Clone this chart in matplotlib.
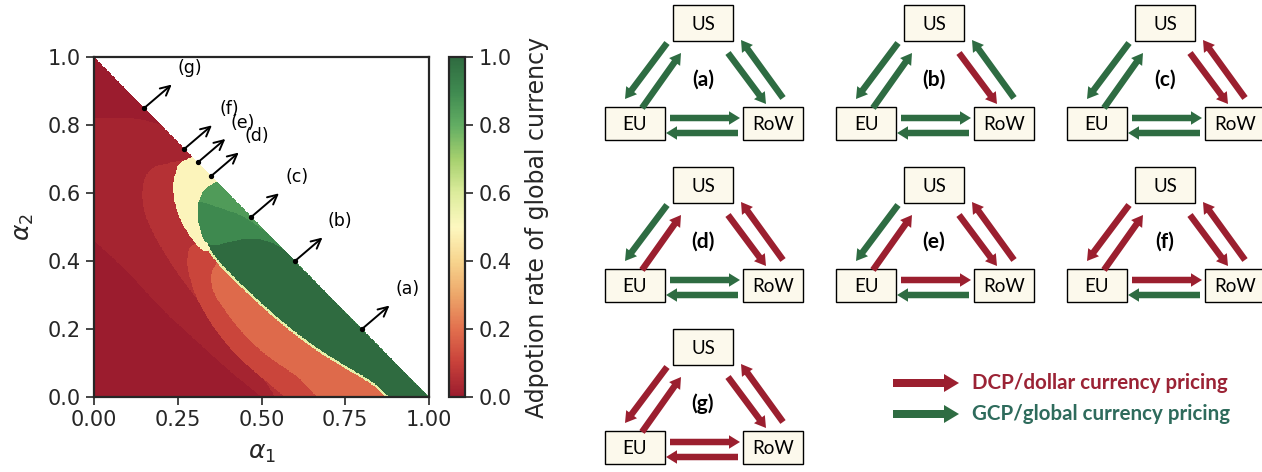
import numpy as np
import matplotlib
matplotlib.use("Agg")
import matplotlib.pyplot as plt
from matplotlib.path import Path
from matplotlib.colors import LinearSegmentedColormap
from matplotlib.patches import FancyArrow, Rectangle

# ---------------- adoption-rate map: region boundaries in (alpha1, alpha2) ----------------
# adoption level of each region (0 = all dollar pricing, 1 = all global currency)
level_base = 0.0
level_band1 = 0.025
level_band2 = 0.06
level_band3 = 0.11
level_band4 = 0.19
level_mixed = 0.49
level_edge = 0.57
level_gcp_low = 0.85
level_gcp_mid = 0.90
level_gcp_high = 1.0

# lower edge of band 1
b01_low_a1 = [0.00, 0.10, 0.20, 0.30, 0.40, 0.50]
b01_low_a2 = [0.46, 0.37, 0.26, 0.17, 0.08, 0.00]
# upper arc of band 1
b01_up_a1 = [0.30, 0.29, 0.25, 0.20, 0.10, 0.00]
b01_up_a2 = [0.70, 0.716, 0.77, 0.804, 0.824, 0.82]
# outer edge of band 2
b12_a1 = [0.30, 0.277, 0.227, 0.172, 0.147, 0.142, 0.157, 0.187, 0.225, 0.27, 0.33, 0.40, 0.46, 0.51, 0.54]
b12_a2 = [0.71, 0.699, 0.689, 0.677, 0.638, 0.580, 0.521, 0.462, 0.400, 0.335, 0.26, 0.18, 0.11, 0.05, 0.00]
# outer edge of band 3
b23_a1 = [0.32, 0.29, 0.282, 0.277, 0.284, 0.299, 0.348, 0.418, 0.498, 0.57]
b23_a2 = [0.46, 0.445, 0.432, 0.393, 0.36, 0.304, 0.216, 0.127, 0.059, 0.00]
# outer edge of band 4
b34_a1 = [0.38, 0.355, 0.348, 0.355, 0.378, 0.44, 0.51, 0.57, 0.615, 0.665]
b34_a2 = [0.41, 0.38, 0.35, 0.31, 0.272, 0.19, 0.125, 0.085, 0.055, 0.00]
# outer edge of the mixed-pricing (yellow) region
mixed_a1 = [0.30, 0.277, 0.252, 0.242, 0.235, 0.242, 0.262, 0.287, 0.311, 0.33, 0.346]
mixed_a2 = [0.71, 0.699, 0.687, 0.658, 0.619, 0.560, 0.511, 0.472, 0.442, 0.427, 0.433]
# outer edge of the global-currency (green) region
gcp_a1 = [0.366, 0.335, 0.321, 0.308, 0.311, 0.326, 0.336, 0.341, 0.346, 0.376, 0.41, 0.45,
          0.50, 0.55, 0.60, 0.65, 0.70, 0.75, 0.80, 0.84, 0.88]
gcp_a2 = [0.634, 0.615, 0.599, 0.560, 0.511, 0.462, 0.455, 0.450, 0.433, 0.395, 0.36, 0.322,
          0.276, 0.232, 0.192, 0.155, 0.122, 0.092, 0.063, 0.040, 0.00]
# light/medium green split
gcp_mid_a1 = [0.30, 0.35, 0.40, 0.44, 0.48, 0.515]
gcp_mid_a2 = [0.58, 0.565, 0.548, 0.535, 0.508, 0.485]
# medium/dark green split
gcp_high_a1 = [0.335, 0.37, 0.41, 0.45, 0.49, 0.53, 0.57, 0.605]
gcp_high_a2 = [0.450, 0.447, 0.457, 0.465, 0.465, 0.455, 0.433, 0.395]

# marked points on the alpha1 + alpha2 = 1 frontier
mark_names = ["(a)", "(b)", "(c)", "(d)", "(e)", "(f)", "(g)"]
mark_a1 = [0.80, 0.60, 0.47, 0.35, 0.31, 0.27, 0.15]
mark_a2 = [0.20, 0.40, 0.53, 0.65, 0.69, 0.73, 0.85]

# axis and colorbar ticks
cbar_ticks = [0.0, 0.2, 0.4, 0.6, 0.8, 1.0]
x_ticks = [0.0, 0.25, 0.5, 0.75, 1.0]
y_ticks = [0.0, 0.2, 0.4, 0.6, 0.8, 1.0]

# ---------------- pricing regimes of the seven schemes (1 = GCP, 0 = DCP) ----------------
scheme_names = ["(a)", "(b)", "(c)", "(d)", "(e)", "(f)", "(g)"]
us_to_eu = [1, 1, 1, 1, 1, 0, 0]
eu_to_us = [1, 1, 1, 0, 0, 0, 0]
us_to_row = [1, 0, 0, 0, 0, 0, 0]
row_to_us = [1, 1, 0, 0, 0, 0, 0]
eu_to_row = [1, 1, 1, 1, 0, 0, 0]
row_to_eu = [1, 1, 1, 1, 1, 1, 0]

DCP_RED = "#9b1f2f"
GCP_GREEN = "#2e6c42"

# ---------------- colormap ----------------
cmap_colors = ["#9b1c2e", "#c8413a", "#e2704e", "#eda76a", "#f7d58e", "#fdf8c0",
               "#dcec9c", "#a6d06e", "#62ad63", "#3f8a50", "#2f6b40"]
cmap = LinearSegmentedColormap.from_list("adoption", cmap_colors)
cmap.set_bad((1, 1, 1, 0))


# ---------------- rasterise the region map ----------------
def smooth(xs, ys, iters=3):
    """Chaikin corner cutting, keeping both end points."""
    p = np.column_stack([xs, ys]).astype(float)
    for _ in range(iters):
        q = 0.75 * p[:-1] + 0.25 * p[1:]
        r = 0.25 * p[:-1] + 0.75 * p[1:]
        mid = np.empty((2 * len(q), 2))
        mid[0::2] = q
        mid[1::2] = r
        p = np.vstack([p[:1], mid, p[-1:]])
    return list(p[:, 0]), list(p[:, 1])


n = 600
g = (np.arange(n) + 0.5) / n
A1, A2 = np.meshgrid(g, g)
pts = np.column_stack([A1.ravel(), A2.ravel()])


def inside(xs, ys):
    return Path(np.column_stack([xs, ys])).contains_points(pts).reshape(A1.shape)


def closed_right(xs, ys):
    xs, ys = smooth(xs, ys)
    return xs + [1.0, 1.0], ys + [0.0, 1.0]


Z = np.full(A1.shape, level_base)
lx, ly = smooth(b01_low_a1, b01_low_a2)
ux, uy = smooth(b01_up_a1, b01_up_a2)
Z[inside(lx + [1.0, 1.0] + ux, ly + [0.0, 1.0] + uy)] = level_band1
Z[inside(*closed_right(b12_a1, b12_a2))] = level_band2
Z[inside(*closed_right(b23_a1, b23_a2))] = level_band3
Z[inside(*closed_right(b34_a1, b34_a2))] = level_band4
shift = 0.005
Z[inside(*closed_right(np.array(gcp_a1) - shift, np.array(gcp_a2) - shift))] = level_edge
Z[inside(*closed_right(mixed_a1, mixed_a2))] = level_mixed
in_gcp = inside(*closed_right(gcp_a1, gcp_a2))
Z[in_gcp] = level_gcp_low
mx, my = smooth(gcp_mid_a1, gcp_mid_a2)
Z[in_gcp & inside(mx + [1.0, 0.0], my + [0.0, 0.0])] = level_gcp_mid
hx, hy = smooth(gcp_high_a1, gcp_high_a2)
Z[in_gcp & inside(hx + [1.0, 0.0], hy + [0.0, 0.0])] = level_gcp_high
Z = np.ma.masked_where(A1 + A2 > 1.0, Z)

# ---------------- figure ----------------
W, H = 1262, 472
fig = plt.figure(figsize=(W / 100, H / 100), dpi=100)
ink = "#262626"
plt.rcParams["font.family"] = ["DejaVu Sans"]

ax = fig.add_axes([94 / W, 75 / H, 335 / W, 340 / H])
im = ax.imshow(Z, origin="lower", extent=[0, 1, 0, 1], cmap=cmap, vmin=0, vmax=1,
               interpolation="nearest", aspect="auto")
ax.set_xlim(0, 1)
ax.set_ylim(0, 1)
ax.set_xticks(x_ticks)
ax.set_yticks(y_ticks)
ax.set_xticklabels([f"{t:.2f}" for t in x_ticks])
ax.set_yticklabels([f"{t:.1f}" for t in y_ticks])
ax.tick_params(labelsize=15, colors=ink, length=6, width=1.2, direction="out")
for s in ax.spines.values():
    s.set_color(ink)
    s.set_linewidth(1.6)
ax.set_xlabel(r"$\alpha_1$", fontsize=18, color=ink, labelpad=8)
ax.set_ylabel(r"$\alpha_2$", fontsize=18, color=ink, labelpad=8)

for name, x, y in zip(mark_names, mark_a1, mark_a2):
    ax.plot(x, y, "o", color="black", ms=2.8, zorder=5)
    ax.annotate("", xy=(x + 0.082, y + 0.069), xytext=(x, y),
                arrowprops=dict(arrowstyle="->", lw=1.4, color="black",
                                shrinkA=0, shrinkB=0, mutation_scale=17))
    ax.text(x + 0.135, y + 0.117, name, fontsize=12.5, ha="center", va="center",
            color="black", clip_on=False)

cax = fig.add_axes([449 / W, 75 / H, 16 / W, 340 / H])
cb = fig.colorbar(im, cax=cax, ticks=cbar_ticks)
cb.ax.set_yticklabels([f"{t:.1f}" for t in cbar_ticks])
cb.ax.tick_params(labelsize=15, colors=ink, length=6, width=1.2)
cb.outline.set_edgecolor(ink)
cb.outline.set_linewidth(1.6)
cb.set_label("Adpotion rate of global currency", fontsize=17, color=ink, labelpad=10)

# ---------------- pricing schemes ----------------
dx = fig.add_axes([0, 0, 1, 1])
dx.set_xlim(0, W)
dx.set_ylim(H, 0)
dx.axis("off")

col_x = [703, 934, 1165]
row_y = [23, 185, 347]
box_fc = "#fcf9ec"
txt_font = ["Lato", "DejaVu Sans"]


def box(cx, cy, w, h, label):
    dx.add_patch(Rectangle((cx - w / 2, cy - h / 2), w, h, fc=box_fc, ec="black", lw=1.0))
    dx.text(cx, cy + 1, label, ha="center", va="center", fontsize=13.5, family=txt_font)


def flow(x0, y0, x1, y1, gcp, width=6.5, hw=13.5, hl=11):
    dx.add_patch(FancyArrow(x0, y0, x1 - x0, y1 - y0, width=width, head_width=hw,
                            head_length=hl, length_includes_head=True, lw=0,
                            color=GCP_GREEN if gcp else DCP_RED))


for i, name in enumerate(scheme_names):
    ox = col_x[i % 3]
    oy = row_y[i // 3]
    box(ox, oy, 60, 36, "US")
    box(ox - 68, oy + 100, 60, 33, "EU")
    box(ox + 70, oy + 100, 60, 33, "RoW")
    dx.text(ox, oy + 57, name, ha="center", va="center", fontsize=15,
            fontweight="bold", family=txt_font)
    flow(ox - 36, oy + 20, ox - 78, oy + 76, us_to_eu[i])
    flow(ox - 61, oy + 85, ox - 22, oy + 30, eu_to_us[i])
    flow(ox + 25, oy + 30, ox + 63, oy + 81, us_to_row[i])
    flow(ox + 80, oy + 75, ox + 38, oy + 17, row_to_us[i])
    flow(ox - 33, oy + 95, ox + 37, oy + 95, eu_to_row[i])
    flow(ox + 35, oy + 110, ox - 37, oy + 110, row_to_eu[i])

# legend
flow(893, 383, 959, 383, 0, width=8, hw=18, hl=15)
flow(893, 414, 959, 414, 1, width=8, hw=18, hl=15)
dx.text(972, 383, "DCP/dollar currency pricing", ha="left", va="center", fontsize=14.8,
        fontweight="bold", color="#9b2335", family=txt_font)
dx.text(972, 414, "GCP/global currency pricing", ha="left", va="center", fontsize=14.8,
        fontweight="bold", color="#2e6b5c", family=txt_font)

fig.savefig("out.png", dpi=100)
